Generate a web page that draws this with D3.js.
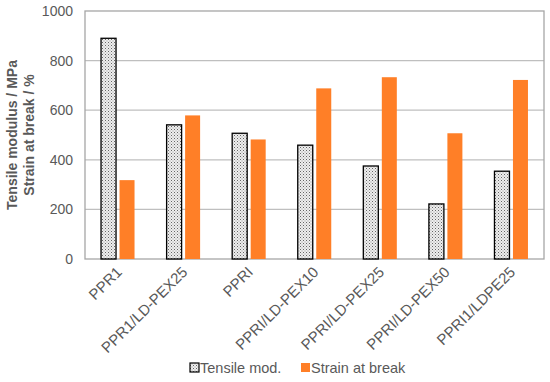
<!DOCTYPE html>
<html>
<head>
<meta charset="utf-8">
<script src="https://cdn.jsdelivr.net/npm/d3@7"></script>
<style>
  body { margin: 0; background: #fff; }
  text { font-family: "Liberation Sans", Arial, sans-serif; }
</style>
</head>
<body>
<div id="chart"></div>
<script>
// Data
const categories = ["PPR1", "PPR1/LD-PEX25", "PPRI", "PPRI/LD-PEX10", "PPRI/LD-PEX25", "PPRI/LD-PEX50", "PPRI1/LDPE25"];
const tensileMod = [890, 541, 507, 459, 375, 222, 354];
const strainAtBreak = [318, 579, 482, 688, 733, 507, 722];
const seriesNames = ["Tensile mod.", "Strain at break"];
const yTicks = [0, 200, 400, 600, 800, 1000];

const width = 550, height = 382;
const margin = { top: 11, right: 6, bottom: 123, left: 85 };
const orange = "#FF7F27";
const textColor = "#595959";

const svg = d3.select("#chart").append("svg")
    .attr("width", width)
    .attr("height", height);

// dotted pattern for tensile bars
const defs = svg.append("defs");
const pat = defs.append("pattern")
    .attr("id", "dots")
    .attr("patternUnits", "userSpaceOnUse")
    .attr("width", 3)
    .attr("height", 3);
pat.append("rect").attr("width", 3).attr("height", 3).attr("fill", "#eeeeee");
pat.append("rect").attr("x", 0).attr("y", 0).attr("width", 1).attr("height", 1).attr("fill", "#666");
pat.append("rect").attr("x", 1.5).attr("y", 1.5).attr("width", 1).attr("height", 1).attr("fill", "#999");

const x = d3.scaleBand()
    .domain(categories)
    .range([margin.left, width - margin.right]);

const y = d3.scaleLinear()
    .domain([0, 1000])
    .range([height - margin.bottom, margin.top]);

const barW = 15, gap = 3.5;

// gridlines
svg.append("g")
    .selectAll("line")
    .data(yTicks.filter(d => d > 0 && d < 1000))
    .enter().append("line")
    .attr("x1", margin.left)
    .attr("x2", width - margin.right)
    .attr("y1", d => y(d))
    .attr("y2", d => y(d))
    .attr("stroke", "#bfbfbf")
    .attr("stroke-width", 1.3);

// plot border
svg.append("rect")
    .attr("x", margin.left)
    .attr("y", y(1000))
    .attr("width", width - margin.right - margin.left)
    .attr("height", y(0) - y(1000))
    .attr("fill", "none")
    .attr("stroke", "#a6a6a6")
    .attr("stroke-width", 1.3);

// y tick labels
svg.append("g")
    .selectAll("text")
    .data(yTicks)
    .enter().append("text")
    .attr("x", margin.left - 12)
    .attr("y", d => y(d))
    .attr("dy", "0.35em")
    .attr("text-anchor", "end")
    .style("font-size", "14px")
    .style("fill", textColor)
    .text(d => d);

// bars
const groups = svg.append("g")
    .selectAll("g")
    .data(categories)
    .enter().append("g");

groups.append("rect")
    .attr("x", (d, i) => x(d) + x.bandwidth() / 2 - gap / 2 - barW)
    .attr("y", (d, i) => y(tensileMod[i]))
    .attr("width", barW)
    .attr("height", (d, i) => y(0) - y(tensileMod[i]))
    .attr("fill", "url(#dots)")
    .attr("stroke", "#000")
    .attr("stroke-width", 1.3);

groups.append("rect")
    .attr("x", (d, i) => x(d) + x.bandwidth() / 2 + gap / 2)
    .attr("y", (d, i) => y(strainAtBreak[i]))
    .attr("width", barW)
    .attr("height", (d, i) => y(0) - y(strainAtBreak[i]))
    .attr("fill", orange);

// x labels
svg.append("g")
    .selectAll("text")
    .data(categories)
    .enter().append("text")
    .attr("transform", d => `translate(${x(d) + x.bandwidth() / 2 + 5},${y(0) + 14}) rotate(-45)`)
    .attr("text-anchor", "end")
    .style("font-size", "15px")
    .style("fill", textColor)
    .text(d => d);

// y axis title
const yTitle = svg.append("text")
    .attr("transform", `translate(12,${(y(0) + y(1000)) / 2}) rotate(-90)`)
    .attr("text-anchor", "middle")
    .style("font-size", "14px")
    .style("font-weight", "bold")
    .style("fill", textColor);
yTitle.append("tspan").attr("x", 0).attr("dy", "0.35em").text("Tensile modulus / MPa");
yTitle.append("tspan").attr("x", 0).attr("dy", "1.25em").text("Strain at break / %");

// legend
const legendItems = [
    { name: seriesNames[0], x: 190, fill: "url(#dots)", stroke: "#000" },
    { name: seriesNames[1], x: 301, fill: orange, stroke: "none" }
];
const legend = svg.append("g")
    .selectAll("g")
    .data(legendItems)
    .enter().append("g")
    .attr("transform", d => `translate(${d.x},368)`);

legend.append("rect")
    .attr("x", 0)
    .attr("y", -5)
    .attr("width", 9)
    .attr("height", 9)
    .attr("fill", d => d.fill)
    .attr("stroke", d => d.stroke)
    .attr("stroke-width", 1.2);

legend.append("text")
    .attr("x", 10)
    .attr("y", 0)
    .attr("dy", "0.35em")
    .style("font-size", "14.5px")
    .style("fill", textColor)
    .text(d => d.name);
</script>
</body>
</html>
